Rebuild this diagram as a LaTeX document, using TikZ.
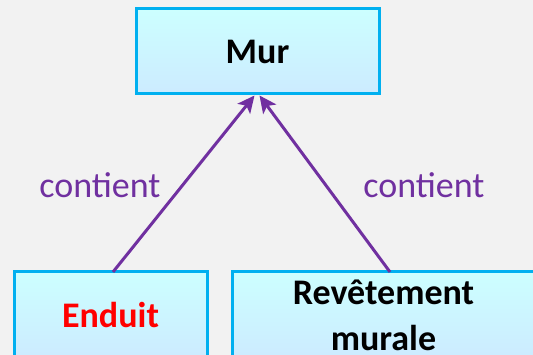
\documentclass[tikz,border=0pt]{standalone}
\usepackage{fontspec}
\setmainfont{Carlito}
\usetikzlibrary{arrows.meta}
\definecolor{bg}{HTML}{F2F2F2}
\definecolor{boxborder}{HTML}{00B0F0}
\definecolor{boxtop}{HTML}{CCFFFF}
\definecolor{boxbot}{HTML}{CCEBFF}
\definecolor{arrowpurple}{HTML}{7030A0}
\definecolor{redtext}{HTML}{FF0000}
\tikzset{
  classbox/.style={draw=boxborder, line width=3pt, top color=boxtop, bottom color=boxbot,
    rectangle, inner sep=0pt, align=center, font=\fontsize{36}{46}\selectfont\bfseries},
  relarrow/.style={draw=arrowpurple, line width=3pt,
    -{Stealth[length=17pt,width=16pt,inset=4pt]}},
  rellabel/.style={text=arrowpurple, font=\fontsize{36}{44}\selectfont, inner sep=0pt}
}
\begin{document}
\begin{tikzpicture}[x=1pt,y=-1pt]
\useasboundingbox (0,0) rectangle (533,355);
\fill[bg] (0,0) rectangle (533,355);
\clip (0,0) rectangle (533,355);
\node[classbox, minimum width=243pt, minimum height=85pt] (mur) at (257.5,51.5) {Mur};
\node[classbox, minimum width=193pt, minimum height=86pt, text=redtext] (enduit) at (110.5,315) {Enduit};
\node[classbox, minimum width=302pt, minimum height=86pt] (revet) at (383.5,315) {Revêtement\\murale};
\coordinate (tipL) at (254.5,95.5);
\coordinate (tipR) at (259.5,95.5);
\coordinate (startL) at (113,272);
\coordinate (startR) at (390,272);
\draw[relarrow] (startL) -- (tipL);
\draw[relarrow] (startR) -- (tipR);
\node[rellabel] (labL) at (100,185) {contient};
\node[rellabel] (labR) at (424,185) {contient};
\end{tikzpicture}
\end{document}
